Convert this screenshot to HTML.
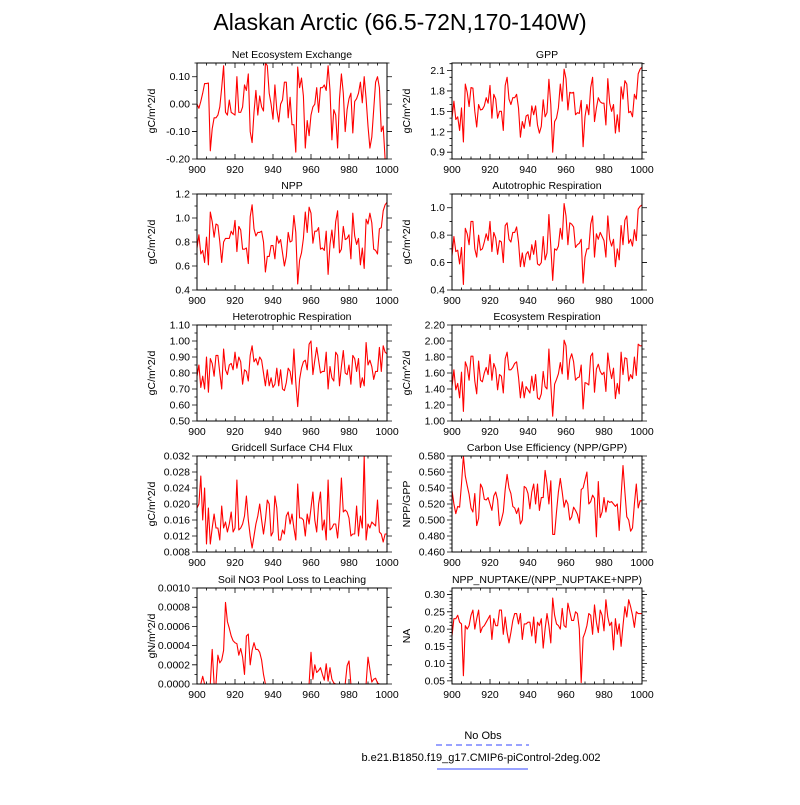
<!DOCTYPE html>
<html><head><meta charset="utf-8"><style>
body{margin:0;background:#fff}
svg text{font-family:"Liberation Sans",sans-serif;fill:#000}
</style></head><body>
<svg id="c" width="800" height="800" viewBox="0 0 800 800" xmlns="http://www.w3.org/2000/svg">
<text x="400" y="30" font-size="23" text-anchor="middle">Alaskan Arctic (66.5-72N,170-140W)</text>
<text x="483" y="739" font-size="11" text-anchor="middle">No Obs</text>
<line x1="436" y1="745" x2="529" y2="745" stroke="#3344ff" stroke-width="1" stroke-dasharray="6,4"/>
<text x="481" y="761" font-size="11" text-anchor="middle">b.e21.B1850.f19_g17.CMIP6-piControl-2deg.002</text>
<line x1="437" y1="769" x2="528" y2="769" stroke="#3344ff" stroke-width="1"/>
<g id="panels"></g>
</svg>
<script>
const years=[];for(let y=900;y<=1000;y++)years.push(y);
const xTicks=[900,920,940,960,980,1000];
const neeVals=[0.0,-0.015,0.01,0.04,0.075,0.075,0.077,-0.17,-0.09,-0.05,-0.05,-0.04,-0.01,0.06,0.14,-0.03,-0.04,0.015,-0.03,-0.035,-0.04,0.1,-0.03,-0.03,-0.01,0.07,0.05,0.11,-0.1,-0.14,-0.03,0.05,-0.04,0.03,-0.01,-0.025,0.15,0.14,0.04,0.0,-0.055,0.07,-0.02,-0.065,0.0,0.015,0.08,0.08,-0.05,0.025,-0.075,-0.075,-0.175,0.135,0.06,0.095,0.03,-0.16,-0.06,-0.115,-0.04,-0.01,0.0,0.06,-0.03,0.06,0.06,0.07,0.05,0.14,0.05,-0.13,-0.02,-0.04,-0.16,0.02,0.11,0.04,-0.1,-0.02,0.02,0.04,-0.105,0.01,0.02,0.04,0.08,0.005,0.1,0.02,-0.08,-0.16,-0.12,-0.02,0.08,0.1,0.06,-0.1,-0.08,-0.2,-0.2];
const gppVals=[1.4,1.65,1.38,1.42,1.22,1.55,1.05,1.9,1.78,1.57,1.85,1.84,1.5,1.27,1.6,1.52,1.53,1.58,1.7,1.62,1.88,1.4,1.75,1.68,1.4,1.5,1.5,1.22,1.88,2.0,1.68,1.6,1.7,1.7,1.75,1.55,1.12,1.35,1.25,1.43,1.45,1.28,1.58,1.45,1.58,1.3,1.18,1.28,1.67,1.42,1.48,1.97,1.6,0.9,1.35,1.4,1.55,1.9,1.65,2.12,1.98,1.52,1.78,1.77,1.78,1.45,1.48,1.47,1.66,0.98,1.42,1.6,1.45,1.85,2.0,1.35,1.55,1.7,1.64,1.62,1.62,1.3,1.98,1.62,1.5,1.6,1.18,1.45,1.2,1.86,1.68,1.95,1.9,1.48,1.5,1.42,1.75,1.68,2.05,2.12,2.15];
const nppVals=[0.75,0.86,0.70,0.73,0.63,0.84,0.61,1.05,0.97,0.84,0.95,0.94,0.80,0.63,0.80,0.83,0.83,0.83,0.89,0.86,0.98,0.72,0.93,0.90,0.74,0.74,0.75,0.62,1.01,1.11,0.91,0.85,0.88,0.88,0.89,0.80,0.55,0.68,0.68,0.77,0.77,0.66,0.85,0.79,0.82,0.71,0.60,0.68,0.88,0.80,0.81,1.02,0.88,0.45,0.65,0.71,0.83,1.05,0.88,1.09,1.04,0.79,0.89,0.89,0.92,0.74,0.75,0.73,0.89,0.53,0.78,0.90,0.75,0.97,1.06,0.71,0.74,0.93,0.82,0.83,0.86,0.66,1.04,0.85,0.78,0.83,0.61,0.75,0.58,0.99,0.95,1.04,0.96,0.74,0.73,0.70,0.91,0.92,1.06,1.11,1.13];
const arVals=[0.65,0.79,0.68,0.69,0.59,0.71,0.44,0.85,0.81,0.73,0.90,0.90,0.70,0.64,0.80,0.69,0.70,0.75,0.81,0.76,0.90,0.68,0.82,0.78,0.66,0.76,0.75,0.60,0.87,0.89,0.77,0.75,0.82,0.82,0.86,0.75,0.57,0.67,0.57,0.66,0.68,0.62,0.73,0.66,0.76,0.59,0.58,0.60,0.79,0.62,0.67,0.95,0.72,0.47,0.70,0.69,0.72,0.85,0.77,1.03,0.94,0.73,0.89,0.88,0.86,0.71,0.73,0.74,0.77,0.45,0.64,0.70,0.70,0.88,0.94,0.64,0.81,0.77,0.82,0.79,0.76,0.64,0.94,0.77,0.72,0.77,0.57,0.70,0.62,0.87,0.73,0.91,0.94,0.74,0.77,0.72,0.84,0.76,0.99,1.01,1.02];
const hrVals=[0.78,0.85,0.71,0.78,0.70,0.90,0.68,0.89,0.86,0.78,0.91,0.91,0.80,0.70,0.95,0.82,0.79,0.85,0.86,0.82,0.93,0.83,0.90,0.87,0.73,0.82,0.81,0.75,0.91,0.97,0.87,0.89,0.85,0.90,0.88,0.80,0.72,0.82,0.72,0.77,0.71,0.73,0.83,0.72,0.82,0.70,0.69,0.74,0.83,0.81,0.73,0.95,0.74,0.59,0.76,0.83,0.87,0.88,0.82,0.98,1.0,0.79,0.88,0.96,0.88,0.80,0.81,0.81,0.93,0.70,0.84,0.77,0.75,0.93,0.91,0.72,0.84,0.94,0.80,0.79,0.85,0.73,0.91,0.89,0.81,0.89,0.71,0.77,0.72,0.99,0.85,0.88,0.84,0.76,0.81,0.81,0.96,0.81,0.97,0.93,0.92];
const erVals=[1.43,1.64,1.39,1.47,1.29,1.61,1.12,1.74,1.67,1.51,1.81,1.81,1.50,1.34,1.75,1.51,1.49,1.60,1.67,1.58,1.83,1.51,1.72,1.65,1.39,1.58,1.56,1.35,1.78,1.86,1.64,1.64,1.67,1.72,1.74,1.55,1.29,1.49,1.29,1.43,1.39,1.35,1.56,1.38,1.58,1.29,1.27,1.34,1.62,1.43,1.40,1.90,1.46,1.06,1.46,1.52,1.59,1.73,1.59,2.01,1.94,1.52,1.77,1.84,1.74,1.51,1.54,1.55,1.70,1.15,1.48,1.47,1.45,1.81,1.85,1.36,1.65,1.71,1.62,1.58,1.61,1.37,1.85,1.66,1.53,1.66,1.28,1.47,1.34,1.86,1.58,1.79,1.78,1.50,1.58,1.53,1.80,1.57,1.96,1.94,1.94];
const ch4Vals=[0.019,0.020,0.027,0.016,0.024,0.010,0.019,0.010,0.014,0.0175,0.014,0.014,0.011,0.0195,0.014,0.0155,0.013,0.015,0.018,0.013,0.014,0.026,0.0135,0.014,0.015,0.017,0.022,0.016,0.012,0.009,0.012,0.015,0.017,0.020,0.016,0.0125,0.016,0.021,0.020,0.012,0.013,0.022,0.019,0.011,0.011,0.0135,0.0125,0.017,0.018,0.015,0.0175,0.014,0.011,0.025,0.0165,0.0165,0.016,0.012,0.0175,0.015,0.019,0.023,0.016,0.013,0.020,0.023,0.0135,0.016,0.011,0.026,0.0135,0.014,0.015,0.015,0.0115,0.017,0.0265,0.018,0.0185,0.018,0.0165,0.012,0.0125,0.0125,0.0195,0.012,0.017,0.014,0.032,0.011,0.015,0.014,0.0155,0.015,0.0145,0.021,0.013,0.0125,0.0105,0.0125,0.0125];
const cueVals=[0.537,0.52,0.508,0.517,0.516,0.545,0.58,0.555,0.543,0.532,0.515,0.51,0.533,0.493,0.502,0.545,0.54,0.526,0.525,0.528,0.52,0.512,0.53,0.535,0.525,0.493,0.50,0.51,0.538,0.557,0.54,0.533,0.517,0.515,0.508,0.515,0.495,0.50,0.542,0.54,0.533,0.514,0.535,0.545,0.52,0.545,0.512,0.528,0.528,0.562,0.545,0.52,0.549,0.482,0.482,0.51,0.535,0.552,0.535,0.516,0.525,0.52,0.50,0.504,0.516,0.512,0.507,0.496,0.538,0.54,0.55,0.56,0.52,0.523,0.531,0.527,0.479,0.548,0.503,0.51,0.528,0.51,0.524,0.522,0.523,0.52,0.517,0.52,0.487,0.53,0.568,0.535,0.504,0.50,0.486,0.49,0.52,0.545,0.515,0.524,0.524];
const no3Vals=[0,0,0,0.00008,0,0,0,0,0.00036,0,0,0.0003,0.00022,0.00025,0.00035,0.00085,0.00065,0.00058,0.0005,0.00045,0.00043,0.00042,0.0003,0.00037,0.00028,0.0001,0.0005,0.00052,0.0002,0.00035,0.00043,0.00036,0.00036,0.00033,0.00025,0.0001,0,0,0,0,0,0,0,0,0,0,0,0,0,0,0,0,0,0,0,0,0,0,0,0,0.00033,0.00005,0.0002,0.00012,0.00014,0.00017,0.0001,0.00004,0.00021,0.00003,0.00017,0.00005,0.00001,0,0,0,0,0,0,0.00019,0.00024,0,0,0,0,0,0,0,0,0,0.00028,0.00015,0.00002,0.00005,0.00006,0.00001,0,0,0,0,0];
const nupVals=[0.18,0.23,0.23,0.24,0.22,0.215,0.065,0.21,0.20,0.21,0.24,0.255,0.20,0.23,0.255,0.19,0.205,0.21,0.22,0.23,0.24,0.17,0.23,0.21,0.21,0.255,0.255,0.185,0.235,0.19,0.16,0.19,0.225,0.245,0.245,0.215,0.245,0.17,0.215,0.215,0.22,0.22,0.18,0.235,0.16,0.22,0.21,0.23,0.145,0.20,0.245,0.21,0.16,0.29,0.24,0.215,0.21,0.20,0.26,0.21,0.205,0.275,0.25,0.225,0.225,0.25,0.245,0.20,0.045,0.175,0.19,0.21,0.245,0.24,0.185,0.27,0.22,0.19,0.255,0.24,0.195,0.285,0.235,0.21,0.22,0.14,0.23,0.185,0.215,0.15,0.21,0.265,0.235,0.285,0.265,0.24,0.205,0.25,0.245,0.245,0.245];
const neeTicks=[-0.2,-0.1,0,0.1], gppTicks=[0.9,1.2,1.5,1.8,2.1], nppTicks=[0.4,0.6,0.8,1.0,1.2], arTicks=[0.4,0.6,0.8,1.0],
 hrTicks=[0.5,0.6,0.7,0.8,0.9,1.0,1.1], erTicks=[1.0,1.2,1.4,1.6,1.8,2.0,2.2], ch4Ticks=[0.008,0.012,0.016,0.02,0.024,0.028,0.032],
 cueTicks=[0.46,0.48,0.5,0.52,0.54,0.56,0.58], no3Ticks=[0,0.0002,0.0004,0.0006,0.0008,0.001], nupTicks=[0.05,0.1,0.15,0.2,0.25,0.3];

const NS='http://www.w3.org/2000/svg';
const root=document.getElementById('panels');
function mk(tag,attrs,parent){const e=document.createElementNS(NS,tag);for(const k in attrs)e.setAttribute(k,attrs[k]);parent.appendChild(e);return e;}
const colX=[[197,387],[452,642]];
const rowY=[[63,159],[194,290],[325,421],[456,552],[588,684]];
const panels=[
 {t:'Net Ecosystem Exchange',yl:'gC/m^2/d',v:neeVals,tk:neeTicks,lo:-0.2,hi:0.15,d:2,mn:0.05,c:0,r:0,id:'nee'},
 {t:'GPP',yl:'gC/m^2/d',v:gppVals,tk:gppTicks,lo:0.8,hi:2.21,d:1,mn:0.1,c:1,r:0,id:'gpp'},
 {t:'NPP',yl:'gC/m^2/d',v:nppVals,tk:nppTicks,lo:0.4,hi:1.2,d:1,mn:0.1,c:0,r:1,id:'npp'},
 {t:'Autotrophic Respiration',yl:'gC/m^2/d',v:arVals,tk:arTicks,lo:0.4,hi:1.1,d:1,mn:0.1,c:1,r:1,id:'ar'},
 {t:'Heterotrophic Respiration',yl:'gC/m^2/d',v:hrVals,tk:hrTicks,lo:0.5,hi:1.1,d:2,mn:0.05,c:0,r:2,id:'hr'},
 {t:'Ecosystem Respiration',yl:'gC/m^2/d',v:erVals,tk:erTicks,lo:1.0,hi:2.2,d:2,mn:0.1,c:1,r:2,id:'er'},
 {t:'Gridcell Surface CH4 Flux',yl:'gC/m^2/d',v:ch4Vals,tk:ch4Ticks,lo:0.008,hi:0.032,d:3,mn:0.002,c:0,r:3,id:'ch4'},
 {t:'Carbon Use Efficiency (NPP/GPP)',yl:'NPP/GPP',v:cueVals,tk:cueTicks,lo:0.46,hi:0.58,d:3,mn:0.005,c:1,r:3,id:'cue'},
 {t:'Soil NO3 Pool Loss to Leaching',yl:'gN/m^2/d',v:no3Vals,tk:no3Ticks,lo:0,hi:0.001,d:4,mn:0.0001,c:0,r:4,id:'no3'},
 {t:'NPP_NUPTAKE/(NPP_NUPTAKE+NPP)',yl:'NA',v:nupVals,tk:nupTicks,lo:0.041,hi:0.319,d:2,mn:0.01,c:1,r:4,id:'nuptake'}
];
panels.forEach(p=>{
 const [x0,x1]=colX[p.c],[y0,y1]=rowY[p.r];
 const g=mk('g',{},root);
 
 
 const xs=v=>x0+(v-900)/100*(x1-x0);
 const ys=v=>y1-(v-p.lo)/(p.hi-p.lo)*(y1-y0);
 const tt=mk('text',{x:(x0+x1)/2,y:y0-5,'font-size':'10.5','text-anchor':'middle'},g);tt.textContent=p.t;
 
 
 const yl=mk('text',{x:0,y:0,'font-size':'10.5','text-anchor':'middle',transform:`translate(${x0-42},${(y0+y1)/2}) rotate(-90)`},g);yl.textContent=p.yl;
 
 
 let tp='';
 for(let yr=900;yr<=1000;yr+=5){const x=xs(yr),L=(yr%20===0)?5:2.5;tp+=`M${x},${y1}v${-L}M${x},${y0}v${L}`;}
 for(let v=p.lo;v<=p.hi+1e-9;v+=p.mn){const vv=Math.round(v/p.mn)*p.mn;if(vv<p.lo-1e-9||vv>p.hi+1e-9)continue;const y=ys(vv);tp+=`M${x0},${y}h-2.5M${x1},${y}h2.5`;}
 p.tk.forEach(v=>{const y=ys(v);tp+=`M${x0},${y}h-5M${x1},${y}h5`;
  const t=mk('text',{x:x0-7,y:y+3.5,'font-size':'10.5','text-anchor':'end'},g);t.textContent=v.toFixed(p.d);
  
  });
 const tk=mk('path',{d:tp,stroke:'#000','stroke-width':'0.8',fill:'none'},g);
 
 
 xTicks.forEach(v=>{const t=mk('text',{x:xs(v),y:y1+14,'font-size':'10.5','text-anchor':'middle'},g);t.textContent=v;
  
  });
 let d='';p.v.forEach((v,i)=>{d+=(i?'L':'M')+xs(years[i]).toFixed(2)+','+ys(v).toFixed(2);});
 const ln=mk('path',{d:d,stroke:'#ff0000','stroke-width':'1.1',fill:'none','stroke-linejoin':'round'},g);
 
 
 const fr=mk('rect',{x:x0,y:y0,width:x1-x0,height:y1-y0,fill:'none',stroke:'#000','stroke-width':'1'},g);
 
 
});
</script>
</body></html>
